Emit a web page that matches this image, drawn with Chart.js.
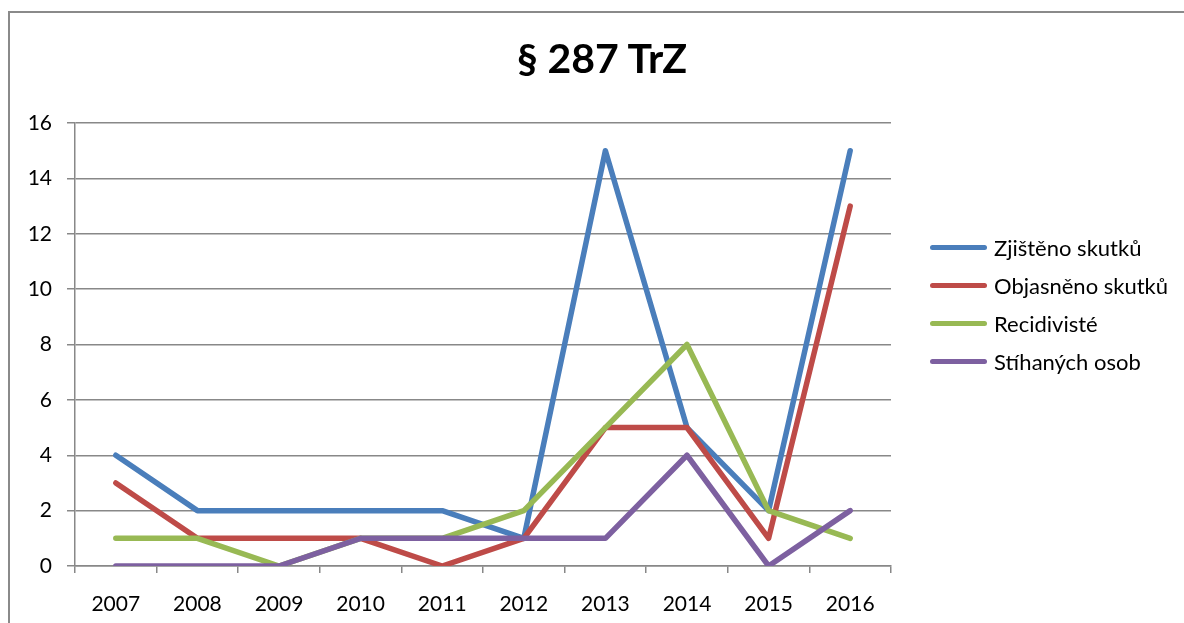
<!DOCTYPE html>
<html lang="cs">
<head>
    <meta charset="UTF-8">
    <title>§ 287 TrZ</title>
    <style>
        body {
            margin: 0;
            padding: 0;
            background-color: #fff;
            font-family: Lato, "Open Sans", sans-serif;
        }

        #wrap {
            position: relative;
            width: 1184px;
            height: 623px;
            overflow: hidden;
        }

        #frame {
            position: absolute;
            left: 8px;
            top: 11px;
            width: 1300px;
            height: 700px;
            border-left: 2px solid #8a8a8a;
            border-top: 2px solid #8a8a8a;
        }

        #title {
            position: absolute;
            left: 400px;
            width: 404px;
            top: 32px;
            text-align: center;
            font-weight: bold;
            font-size: 41px;
            line-height: 52px;
            color: #000;
        }

        #legend {
            position: absolute;
            left: 930px;
            top: 228px;
        }

        .item {
            height: 38px;
            display: flex;
            align-items: center;
            font-size: 22px;
            color: #000;
        }

        .swatch {
            width: 57px;
            height: 5px;
            border-radius: 3px;
            margin-right: 7px;
        }

        canvas {
            position: absolute;
            left: 0;
            top: 0;
        }
    </style>
    <script src="https://cdn.jsdelivr.net/npm/chart.js"></script>
</head>
<body>
    <div id="wrap">
        <div id="frame"></div>
        <canvas id="line-chart" width="1184" height="623"></canvas>
        <div id="title">§ 287 TrZ</div>
        <div id="legend"></div>
    </div>

    <script>
        // data
        const years = ['2007', '2008', '2009', '2010', '2011', '2012', '2013', '2014', '2015', '2016'];
        const seriesNames = ['Zjištěno skutků', 'Objasněno skutků', 'Recidivisté', 'Stíhaných osob'];
        const zjisteno = [4, 2, 2, 2, 2, 1, 15, 5, 2, 15];
        const objasneno = [3, 1, 1, 1, 0, 1, 5, 5, 1, 13];
        const recidiviste = [1, 1, 0, 1, 1, 2, 5, 8, 2, 1];
        const stihanych = [0, 0, 0, 1, 1, 1, 1, 4, 0, 2];
        const colors = ['#4a7ebb', '#be4b48', '#98b954', '#7d60a0'];

        const values = [zjisteno, objasneno, recidiviste, stihanych];
        const gridColor = '#888888';
        const tickFont = { family: 'Lato', size: 21 };

        const datasets = values.map((v, i) => ({
            label: seriesNames[i],
            data: v,
            borderColor: colors[i],
            backgroundColor: colors[i],
            borderWidth: 5.5,
            pointRadius: 0,
            borderJoinStyle: 'round',
            borderCapStyle: 'round',
            order: values.length - i // later series on top, like in Excel
        }));

        new Chart(document.getElementById('line-chart'), {
            type: 'line',
            data: { labels: years, datasets: datasets },
            options: {
                responsive: false,
                devicePixelRatio: 1,
                animation: false,
                layout: {
                    padding: { left: 0, top: 123, right: 293, bottom: 0 }
                },
                plugins: {
                    legend: { display: false },
                    title: { display: false },
                    tooltip: { enabled: false }
                },
                scales: {
                    x: {
                        offset: true,
                        grid: {
                            offset: true,
                            drawOnChartArea: false,
                            color: gridColor,
                            lineWidth: 1.5,
                            tickLength: 7
                        },
                        border: { color: gridColor, width: 1.5 },
                        ticks: { color: '#000', font: tickFont, padding: 19, maxRotation: 0 },
                        afterFit: (scale) => { scale.height = 57; }
                    },
                    y: {
                        min: 0,
                        max: 16,
                        ticks: { stepSize: 2, color: '#000', font: tickFont, padding: 15 },
                        grid: { color: gridColor, lineWidth: 1.5, tickLength: 8 },
                        border: { color: gridColor, width: 1.5 },
                        afterFit: (scale) => { scale.width = 75; }
                    }
                }
            }
        });

        // legend built from the same series
        const legend = document.getElementById('legend');
        seriesNames.forEach((name, i) => {
            const row = document.createElement('div');
            row.className = 'item';
            row.innerHTML = '<div class="swatch" style="background:' + colors[i] + '"></div><span>' + name + '</span>';
            legend.appendChild(row);
        });
    </script>
</body>
</html>
